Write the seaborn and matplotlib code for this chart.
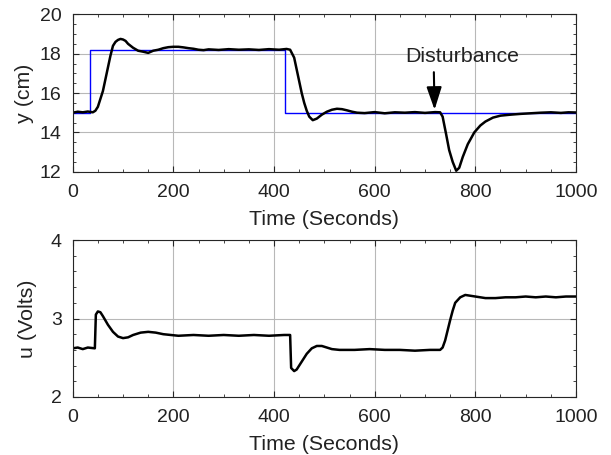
import pandas as pd
import matplotlib.pyplot as plt
import seaborn as sns
from matplotlib.ticker import MultipleLocator

# setpoint (blue step)
sp_t = [0, 34, 34, 421, 421, 1000]
sp_y = [15.0, 15.0, 18.2, 18.2, 15.0, 15.0]

# level response y (cm)
y_t = [0, 10, 20, 30, 40, 45, 50, 55, 60, 65, 70, 75, 80, 85, 90, 95, 100, 105, 110, 120,
       130, 140, 150, 160, 170, 180, 190, 200, 210, 220, 230, 240, 250, 260, 270, 290, 310,
       330, 350, 370, 390, 410, 425, 432, 440, 445, 450, 455, 460, 465, 470, 477, 485, 495,
       505, 515, 525, 535, 545, 555, 565, 580, 600, 620, 640, 660, 680, 700, 720, 730, 735,
       742, 748, 755, 762, 768, 775, 785, 798, 810, 820, 835, 850, 870, 890, 910, 930, 950,
       970, 985, 1000]
y_v = [15.0, 15.05, 15.02, 15.06, 15.02, 15.1, 15.3, 15.7, 16.1, 16.7, 17.3, 17.9, 18.4, 18.6,
       18.7, 18.75, 18.72, 18.65, 18.5, 18.3, 18.15, 18.1, 18.04, 18.15, 18.2, 18.28, 18.33,
       18.35, 18.35, 18.32, 18.28, 18.25, 18.2, 18.18, 18.22, 18.19, 18.23, 18.2, 18.22, 18.19,
       18.23, 18.2, 18.24, 18.2, 17.8, 17.2, 16.6, 16.0, 15.5, 15.1, 14.8, 14.62, 14.7, 14.9,
       15.05, 15.15, 15.2, 15.18, 15.12, 15.05, 15.0, 14.98, 15.03, 14.97, 15.02, 15.0, 15.03,
       14.99, 15.03, 15.02, 14.8, 13.9, 13.1, 12.5, 12.05, 12.2, 12.75, 13.4, 14.0, 14.35, 14.55,
       14.75, 14.85, 14.9, 14.94, 14.97, 15.0, 15.02, 14.99, 15.02, 15.01]

# control signal u (Volts)
u_t = [0, 10, 20, 30, 44, 46, 50, 55, 60, 70, 80, 90, 100, 110, 120, 135, 150, 165, 180, 195,
       210, 240, 270, 300, 330, 360, 390, 420, 432, 434, 440, 445, 455, 465, 475, 485, 495,
       505, 515, 530, 560, 590, 620, 650, 680, 710, 730, 735, 740, 745, 750, 755, 760, 770,
       780, 790, 800, 820, 840, 860, 880, 900, 920, 940, 960, 980, 1000]
u_v = [2.62, 2.63, 2.61, 2.63, 2.62, 3.05, 3.09, 3.08, 3.03, 2.92, 2.83, 2.77, 2.75, 2.76,
       2.79, 2.82, 2.83, 2.82, 2.8, 2.79, 2.78, 2.79, 2.78, 2.79, 2.78, 2.79, 2.78, 2.79, 2.79,
       2.37, 2.33, 2.35, 2.45, 2.55, 2.62, 2.65, 2.65, 2.63, 2.61, 2.6, 2.6, 2.61, 2.6, 2.6,
       2.59, 2.6, 2.6, 2.63, 2.72, 2.85, 2.98, 3.1, 3.2, 3.27, 3.3, 3.29, 3.28, 3.26, 3.26,
       3.27, 3.27, 3.28, 3.27, 3.28, 3.27, 3.28, 3.28]

sp = pd.DataFrame({'t': sp_t, 'y': sp_y})
yd = pd.DataFrame({'t': y_t, 'y': y_v})
ud = pd.DataFrame({'t': u_t, 'u': u_v})

sns.set_style('ticks')
plt.rcParams['font.family'] = ['Liberation Sans', 'DejaVu Sans']
plt.rcParams['text.color'] = '#222222'
plt.rcParams['axes.labelcolor'] = '#222222'

fig = plt.figure(figsize=(6.11, 4.55), dpi=100)
ax1 = fig.add_axes([0.119, 0.6226, 0.8237, 0.3459])
ax2 = fig.add_axes([0.119, 0.1275, 0.8237, 0.345])

sns.lineplot(data=sp, x='t', y='y', ax=ax1, color='blue', lw=1.0, sort=False, estimator=None)
sns.lineplot(data=yd, x='t', y='y', ax=ax1, color='black', lw=1.8, sort=False, estimator=None)
sns.lineplot(data=ud, x='t', y='u', ax=ax2, color='black', lw=1.8, sort=False, estimator=None)

ax1.set_ylim(12, 20)
ax1.yaxis.set_major_locator(MultipleLocator(2))
ax1.yaxis.set_minor_locator(MultipleLocator(0.5))
ax1.set_ylabel('y (cm)', fontsize=15.4, labelpad=4)
ax2.set_ylim(2, 4)
ax2.yaxis.set_major_locator(MultipleLocator(1))
ax2.yaxis.set_minor_locator(MultipleLocator(0.2))
ax2.set_ylabel('u (Volts)', fontsize=15.4, labelpad=10)

for ax in (ax1, ax2):
    ax.set_xlim(0, 1000)
    ax.xaxis.set_major_locator(MultipleLocator(200))
    ax.xaxis.set_minor_locator(MultipleLocator(50))
    ax.set_xlabel('Time (Seconds)', fontsize=15.4, labelpad=6)
    ax.grid(True, which='major', color='#b8b8b8', lw=0.8)
    ax.tick_params(which='both', direction='in', top=True, right=True, labelsize=14,
                   labelcolor='#222222')
    ax.tick_params(axis='x', which='both', pad=9)
    ax.tick_params(axis='y', which='both', pad=8)
    ax.tick_params(which='major', length=4)
    ax.tick_params(which='minor', length=2.5)
    for s in ax.spines.values():
        s.set_linewidth(0.8)
        s.set_color('#262626')

ax1.annotate('Disturbance', xy=(719, 15.15), xytext=(774, 17.85), ha='center', va='center',
             fontsize=15.4,
             arrowprops=dict(arrowstyle='-|>,head_length=0.9,head_width=0.3', color='black',
                             lw=1.5, shrinkA=2, shrinkB=0, relpos=(0.25, 0.0)))

fig.savefig('out.png', dpi=100)
